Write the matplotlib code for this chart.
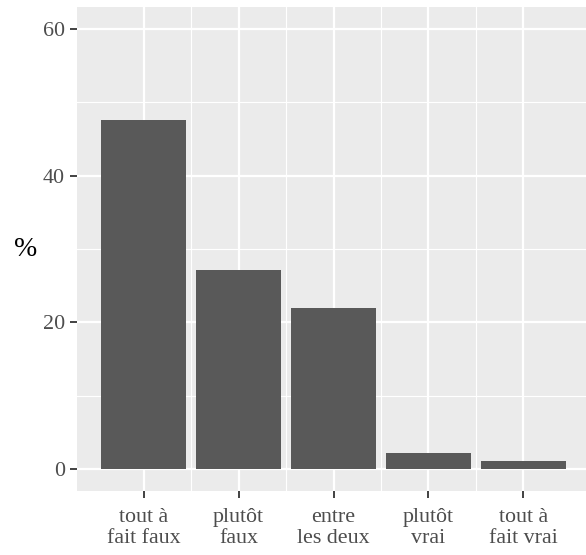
import numpy as np
import matplotlib
matplotlib.use("Agg")
import matplotlib.pyplot as plt

# données
categories = ["tout à\nfait faux", "plutôt\nfaux", "entre\nles deux", "plutôt\nvrai", "tout à\nfait vrai"]
pourcent = [47.6, 27.1, 22.0, 2.2, 1.1]
y_ticks = [0, 20, 40, 60]

plt.rcParams['font.family'] = ['Liberation Serif', 'DejaVu Serif']

W, H = 586, 555
fig = plt.figure(figsize=(W / 100, H / 100), dpi=100)
ax = fig.add_axes([77.3 / W, (H - 491) / H, (W - 77.3) / W, (491 - 7) / H])

ax.set_facecolor('#EBEBEB')
x = np.arange(len(categories))
ax.bar(x, pourcent, width=0.9, color='#595959', zorder=3)

ax.set_xlim(-0.7, 4.66)
ax.set_ylim(-3, 63)

ax.set_yticks(y_ticks)
ax.set_yticks([10, 30, 50], minor=True)
ax.set_xticks(x)
ax.set_xticklabels(categories)
ax.set_xticks(x[:-1] + 0.5, minor=True)

ax.grid(which='major', color='white', linewidth=1.6, zorder=0)
ax.grid(which='minor', color='white', linewidth=0.8, zorder=0)
ax.set_axisbelow(True)

for s in ax.spines.values():
    s.set_visible(False)

ax.tick_params(which='major', length=5, width=1.3, color='#333333',
               labelcolor='#4D4D4D', labelsize=15.8)
ax.tick_params(axis='x', pad=7)
ax.tick_params(axis='y', pad=4)
ax.tick_params(which='minor', length=0)
for lab in ax.get_xticklabels():
    lab.set_linespacing(1.2)

ax.set_ylabel('%', rotation=0, fontsize=20, color='black', labelpad=12, va='center')

fig.savefig('out.png', dpi=100)
